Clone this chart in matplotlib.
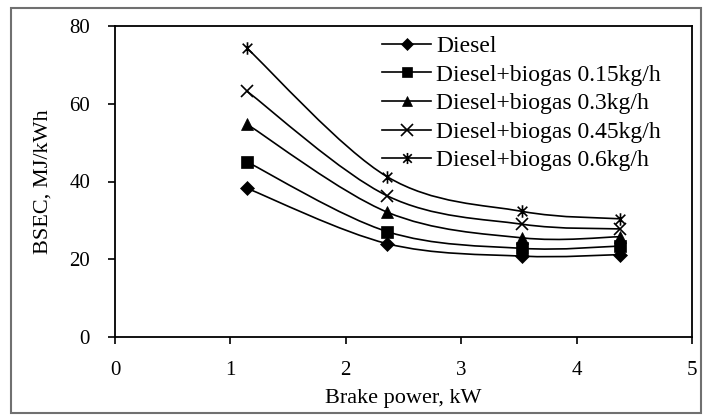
import matplotlib
matplotlib.use("Agg")
import matplotlib.pyplot as plt
from matplotlib.path import Path
from matplotlib.patches import PathPatch, Rectangle
from matplotlib.lines import Line2D
import numpy as np

plt.rcParams['font.family'] = ['Liberation Serif', 'DejaVu Serif']

# Data
brake_power = [1.14, 2.36, 3.53, 4.38]
diesel = [38.3, 24.0, 20.8, 21.2]
biogas_015 = [45.1, 27.1, 22.8, 23.4]
biogas_03 = [54.8, 32.1, 25.5, 25.8]
biogas_045 = [63.3, 36.3, 29.0, 27.8]
biogas_06 = [74.4, 41.2, 32.3, 30.4]

labels = ["Diesel", "Diesel+biogas 0.15kg/h", "Diesel+biogas 0.3kg/h",
          "Diesel+biogas 0.45kg/h", "Diesel+biogas 0.6kg/h"]

# asterisk marker: x with a vertical bar
star = Path([(-1, -1), (1, 1), (-1, 1), (1, -1), (0, -1.3), (0, 1.3)],
            [Path.MOVETO, Path.LINETO, Path.MOVETO, Path.LINETO, Path.MOVETO, Path.LINETO])

series = [
    (diesel, "D", 7, True),
    (biogas_015, "s", 8, True),
    (biogas_03, "^", 8, True),
    (biogas_045, "x", 9, False),
    (biogas_06, star, 9, False),
]


def smooth_path(x, y):
    # excel-like smoothed line (bezier through the points)
    pts = np.column_stack([x, y])
    verts = [pts[0]]
    codes = [Path.MOVETO]
    n = len(pts)
    for i in range(n - 1):
        p0 = pts[max(i - 1, 0)]
        p1 = pts[i]
        p2 = pts[i + 1]
        p3 = pts[min(i + 2, n - 1)]
        c1 = p1 + (p2 - p0) / 6.0
        c2 = p2 - (p3 - p1) / 6.0
        verts += [c1, c2, p2]
        codes += [Path.CURVE4] * 3
    return Path(verts, codes)


fig = plt.figure(figsize=(7.08, 4.18), dpi=100)
ax = fig.add_axes([115 / 708, (418 - 337) / 418, (692 - 115) / 708, (337 - 26) / 418])

handles = []
for (vals, mk, ms, filled), lab in zip(series, labels):
    ax.add_patch(PathPatch(smooth_path(brake_power, vals), fill=False,
                           edgecolor="black", lw=1.2))
    ax.plot(brake_power, vals, linestyle="none", marker=mk, markersize=ms,
            color="black", markeredgewidth=1.2 if not filled else 0.5)
    handles.append(Line2D([], [], color="black", lw=1.2, marker=mk,
                          markersize=ms - 1, markeredgewidth=1.2 if not filled else 0.5))

ax.set_xlim(0, 5)
ax.set_ylim(0, 80)
ax.set_xticks([0, 1, 2, 3, 4, 5])
ax.set_yticks([0, 20, 40, 60, 80])
ax.tick_params(direction="out", length=5, width=1.2, labelsize=15)
ax.tick_params(axis="y", pad=13)
ax.tick_params(axis="x", pad=12)
for s in ax.spines.values():
    s.set_linewidth(1.3)

ax.set_xlabel("Brake power, kW", fontsize=16, labelpad=7)
ax.set_ylabel("BSEC, MJ/kWh", fontsize=16, labelpad=12)

ax.legend(handles, labels, loc="upper left", bbox_to_anchor=(0.438, 1.015),
          frameon=False, fontsize=17, handlelength=2.1, handletextpad=0.2,
          labelspacing=0.3, borderaxespad=0.2)

# outer frame around the whole picture
fig.patches.append(Rectangle((11 / 708, 5 / 418), 690 / 708, 405 / 418,
                             transform=fig.transFigure, fill=False,
                             edgecolor="#707070", lw=1.5))

fig.savefig("out.png", dpi=100)
